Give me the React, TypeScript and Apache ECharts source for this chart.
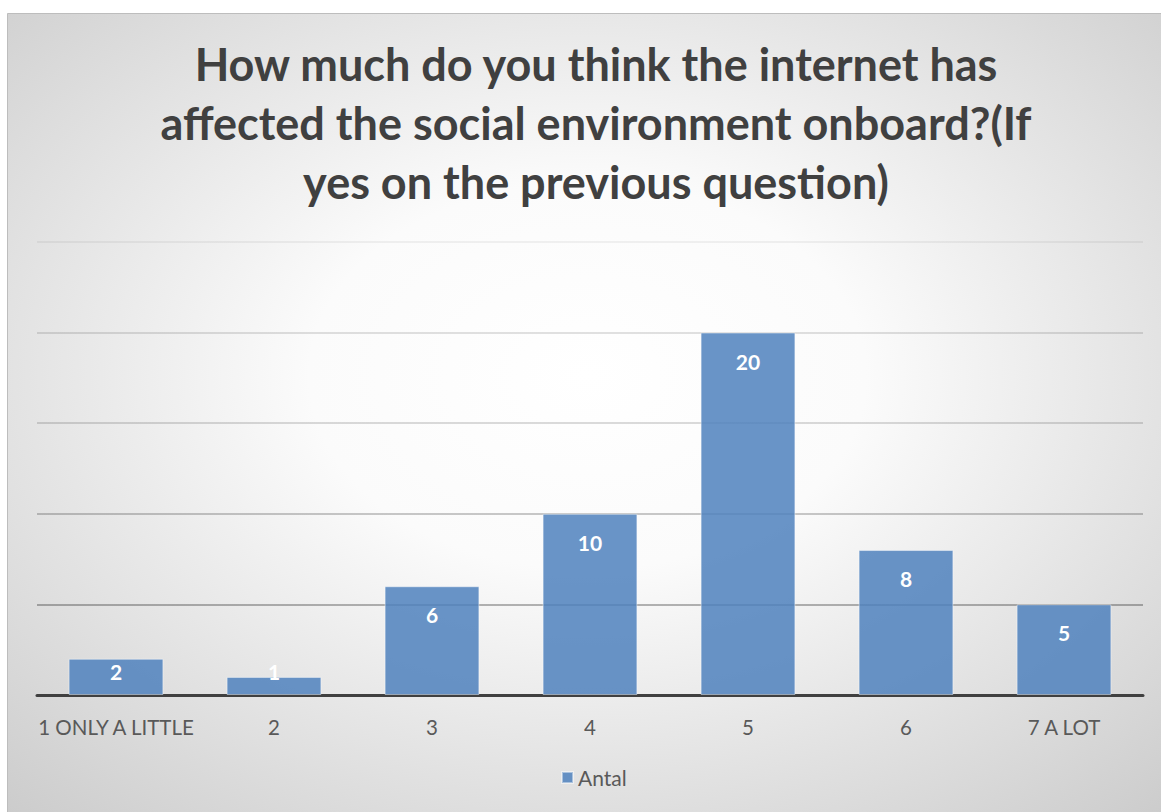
import React, { useEffect, useRef } from "react";
import * as echarts from "echarts";

const titleLines = [
  "How much do you think the internet has",
  "affected the social environment onboard?(If",
  "yes on the previous question)",
];
const categories = ["1 ONLY A LITTLE", "2", "3", "4", "5", "6", "7 A LOT"];
const antal = [2, 1, 6, 10, 20, 8, 5];
const seriesName = "Antal";

export default function App() {
  const ref = useRef<HTMLDivElement>(null);
  useEffect(() => {
    if (!ref.current) return;
    const chart = echarts.init(ref.current, null, { renderer: "svg" });
    const barData = antal.map((v) =>
      v < 3
        ? { value: v, label: { position: "insideBottom", distance: 13 } }
        : { value: v }
    );
    chart.setOption({
      animation: false,
      graphic: {
        elements: [
          {
            type: "rect",
            z: -100,
            silent: true,
            shape: { x: 7.5, y: 13.5, width: 1160, height: 805 },
            style: {
              fill: {
                type: "radial",
                x: 0.5,
                y: 0.45,
                r: 0.8,
                colorStops: [
                  { offset: 0, color: "#ffffff" },
                  { offset: 0.3, color: "#fbfbfb" },
                  { offset: 1, color: "#c6c6c6" },
                ],
              },
              stroke: "#bdbdbd",
              lineWidth: 1,
            },
          },
        ],
      },
      title: {
        text: titleLines.join("\n"),
        left: 591,
        top: 29,
        textAlign: "center",
        textStyle: {
          fontFamily: "Lato",
          fontWeight: "bold",
          fontSize: 45,
          lineHeight: 59,
          color: "#404040",
        },
      },
      legend: {
        bottom: 19,
        left: 556,
        itemWidth: 11,
        itemHeight: 11,
        itemGap: 6,
        icon: "rect",
        textStyle: { fontFamily: "Lato", fontSize: 21, color: "#595959" },
        data: [seriesName],
      },
      grid: { left: 37, right: 18, top: 242, bottom: 117 },
      xAxis: {
        type: "category",
        data: categories,
        axisLine: { lineStyle: { color: "#404040", width: 3 } },
        axisTick: { show: false },
        axisLabel: {
          interval: 0,
          fontFamily: "Lato",
          fontSize: 20.5,
          color: "#595959",
          margin: 21,
        },
      },
      yAxis: {
        type: "value",
        min: 0,
        max: 25,
        interval: 5,
        axisLabel: { show: false },
        axisLine: { show: false },
        axisTick: { show: false },
        splitLine: {
          lineStyle: {
            width: 1.5,
            color: {
              type: "linear",
              global: true,
              x: 0,
              y: 242,
              x2: 0,
              y2: 695,
              colorStops: [
                { offset: 0, color: "rgba(0,0,0,0.07)" },
                { offset: 0.2, color: "rgba(0,0,0,0.16)" },
                { offset: 0.4, color: "rgba(0,0,0,0.19)" },
                { offset: 0.6, color: "rgba(0,0,0,0.28)" },
                { offset: 0.8, color: "rgba(0,0,0,0.38)" },
                { offset: 1, color: "rgba(0,0,0,0.45)" },
              ],
            },
          },
        },
      },
      series: [
        {
          name: seriesName,
          type: "bar",
          data: barData,
          barCategoryGap: "40%",
          itemStyle: {
            color: "rgba(79,129,189,0.85)",
            borderColor: "rgba(255,255,255,0.45)",
            borderWidth: 1,
          },
          label: {
            show: true,
            position: "insideTop",
            distance: 18,
            color: "#ffffff",
            fontFamily: "Lato",
            fontWeight: "bold",
            fontSize: 21,
          },
        },
      ],
    });
    return () => chart.dispose();
  }, []);
  return (
    <div
      ref={ref}
      style={{ position: "absolute", left: 0, top: 0, width: 1161, height: 812 }}
    />
  );
}
